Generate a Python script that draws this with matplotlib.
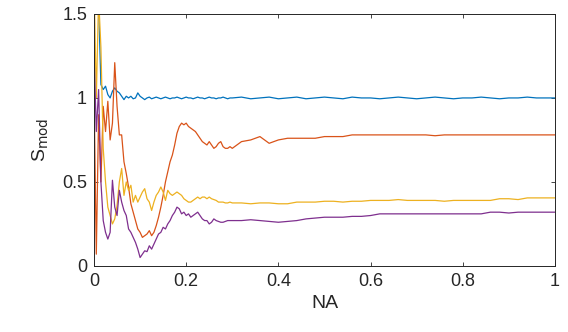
import numpy as np
import matplotlib.pyplot as plt

# Grille NA : dense au début (0 -> 0.3), plus lâche ensuite
NA_early = [0.000, 0.005, 0.010, 0.015, 0.020, 0.025, 0.030, 0.035, 0.040, 0.045,
            0.050, 0.055, 0.060, 0.065, 0.070, 0.075, 0.080, 0.085, 0.090, 0.095,
            0.100, 0.105, 0.110, 0.115, 0.120, 0.125, 0.130, 0.135, 0.140, 0.145,
            0.150, 0.155, 0.160, 0.165, 0.170, 0.175, 0.180, 0.185, 0.190, 0.195,
            0.200, 0.205, 0.210, 0.215, 0.220, 0.225, 0.230, 0.235, 0.240, 0.245,
            0.250, 0.255, 0.260, 0.265, 0.270, 0.275, 0.280, 0.285, 0.290, 0.295,
            0.300]
NA_late = [0.32, 0.34, 0.36, 0.38, 0.40, 0.42, 0.44, 0.46, 0.48, 0.50,
           0.52, 0.54, 0.56, 0.58, 0.60, 0.62, 0.64, 0.66, 0.68, 0.70,
           0.72, 0.74, 0.76, 0.78, 0.80, 0.82, 0.84, 0.86, 0.88, 0.90,
           0.92, 0.94, 0.96, 0.98, 1.00]

s_blue = [1.70, 1.60, 1.55, 1.08, 1.05, 1.07, 1.02, 1.00, 1.04, 1.06,
          1.04, 1.03, 1.01, 0.99, 1.01, 1.00, 1.01, 0.995, 1.00, 1.03,
          1.01, 1.00, 0.99, 1.00, 1.005, 0.995, 1.00, 1.005, 1.00, 0.995,
          1.00, 1.005, 1.00, 0.995, 1.00, 1.00, 1.005, 1.00, 0.995, 1.00,
          1.005, 1.00, 1.00, 0.995, 1.00, 1.005, 1.00, 1.00, 0.995, 1.00,
          1.005, 1.00, 1.00, 0.995, 1.00, 1.00, 1.005, 1.00, 0.995, 1.00,
          1.00,
          1.005, 0.995, 1.00, 1.005, 0.995, 1.00, 1.005, 0.995, 1.00, 1.005,
          1.00, 0.995, 1.005, 1.00, 1.00, 0.995, 1.00, 1.005, 1.00, 0.995,
          1.00, 1.005, 1.00, 0.995, 1.00, 1.00, 1.005, 1.00, 0.995, 1.00,
          1.00, 1.005, 1.00, 1.00, 1.00]

s_red = [1.05, 0.07, 0.90, 0.50, 0.95, 0.80, 0.98, 0.75, 0.85, 1.21,
         0.95, 0.78, 0.78, 0.62, 0.55, 0.47, 0.37, 0.32, 0.27, 0.22,
         0.20, 0.17, 0.18, 0.19, 0.21, 0.18, 0.20, 0.24, 0.29, 0.35,
         0.42, 0.50, 0.56, 0.62, 0.66, 0.72, 0.79, 0.83, 0.85, 0.84,
         0.85, 0.83, 0.82, 0.81, 0.80, 0.78, 0.76, 0.74, 0.73, 0.72,
         0.74, 0.72, 0.70, 0.71, 0.73, 0.74, 0.71, 0.70, 0.70, 0.71,
         0.70,
         0.74, 0.75, 0.77, 0.73, 0.75, 0.76, 0.76, 0.76, 0.76, 0.77,
         0.77, 0.77, 0.78, 0.78, 0.78, 0.78, 0.78, 0.78, 0.78, 0.78,
         0.78, 0.775, 0.78, 0.78, 0.78, 0.78, 0.78, 0.78, 0.78, 0.78,
         0.78, 0.78, 0.78, 0.78, 0.78]

s_yellow = [1.70, 1.00, 1.60, 1.30, 0.70, 0.50, 0.35, 0.30, 0.25, 0.28,
            0.36, 0.50, 0.58, 0.42, 0.50, 0.45, 0.48, 0.38, 0.42, 0.38,
            0.41, 0.44, 0.46, 0.40, 0.38, 0.33, 0.38, 0.42, 0.44, 0.47,
            0.44, 0.39, 0.45, 0.43, 0.42, 0.43, 0.44, 0.43, 0.42, 0.40,
            0.39, 0.38, 0.38, 0.39, 0.40, 0.41, 0.40, 0.41, 0.41, 0.40,
            0.41, 0.40, 0.395, 0.39, 0.38, 0.38, 0.38, 0.375, 0.375, 0.38,
            0.375,
            0.375, 0.37, 0.375, 0.375, 0.37, 0.37, 0.38, 0.38, 0.38, 0.385,
            0.385, 0.38, 0.385, 0.385, 0.39, 0.39, 0.39, 0.395, 0.39, 0.39,
            0.39, 0.39, 0.385, 0.39, 0.39, 0.39, 0.39, 0.39, 0.40, 0.40,
            0.395, 0.405, 0.405, 0.405, 0.405]

s_purple = [1.27, 0.80, 1.05, 0.50, 0.27, 0.20, 0.16, 0.20, 0.51, 0.35,
            0.30, 0.45, 0.38, 0.33, 0.30, 0.22, 0.20, 0.17, 0.14, 0.10,
            0.05, 0.07, 0.09, 0.085, 0.12, 0.10, 0.13, 0.16, 0.19, 0.20,
            0.23, 0.22, 0.25, 0.27, 0.30, 0.32, 0.35, 0.34, 0.31, 0.32,
            0.30, 0.31, 0.29, 0.30, 0.31, 0.32, 0.30, 0.28, 0.27, 0.27,
            0.25, 0.26, 0.28, 0.27, 0.265, 0.26, 0.26, 0.265, 0.27, 0.27,
            0.27,
            0.27, 0.275, 0.27, 0.265, 0.26, 0.265, 0.27, 0.28, 0.285, 0.29,
            0.29, 0.29, 0.295, 0.295, 0.30, 0.31, 0.31, 0.31, 0.31, 0.31,
            0.31, 0.31, 0.31, 0.31, 0.31, 0.31, 0.31, 0.32, 0.32, 0.315,
            0.32, 0.32, 0.32, 0.32, 0.32]

NA = NA_early + NA_late
series = [(s_blue, '#0072BD'), (s_red, '#D95319'),
          (s_yellow, '#EDB120'), (s_purple, '#7E2F8E')]

plt.rcParams['font.family'] = ['Liberation Sans', 'DejaVu Sans']

fig = plt.figure(figsize=(5.68, 3.32), dpi=100)
ax = fig.add_axes([0.1655, 0.199, 0.8115, 0.759])

for s, c in series:
    ax.plot(NA, s, color=c, lw=0.9)

ax.set_xlim(0, 1)
ax.set_ylim(0, 1.5)
ax.set_xticks([0, 0.2, 0.4, 0.6, 0.8, 1])
ax.set_xticklabels(['0', '0.2', '0.4', '0.6', '0.8', '1'])
ax.set_yticks([0, 0.5, 1, 1.5])
ax.set_yticklabels(['0', '0.5', '1', '1.5'])
ax.tick_params(direction='in', top=True, right=True, length=3, width=0.6,
               labelsize=13, colors='#262626', pad=5)
for sp in ax.spines.values():
    sp.set_linewidth(0.7)
    sp.set_color('#262626')
ax.set_xlabel('NA', fontsize=14, color='#262626', labelpad=4)
ax.set_ylabel(r'S$_{\mathrm{mod}}$', fontsize=14, color='#262626', labelpad=8)

fig.savefig('out.png', dpi=100)
